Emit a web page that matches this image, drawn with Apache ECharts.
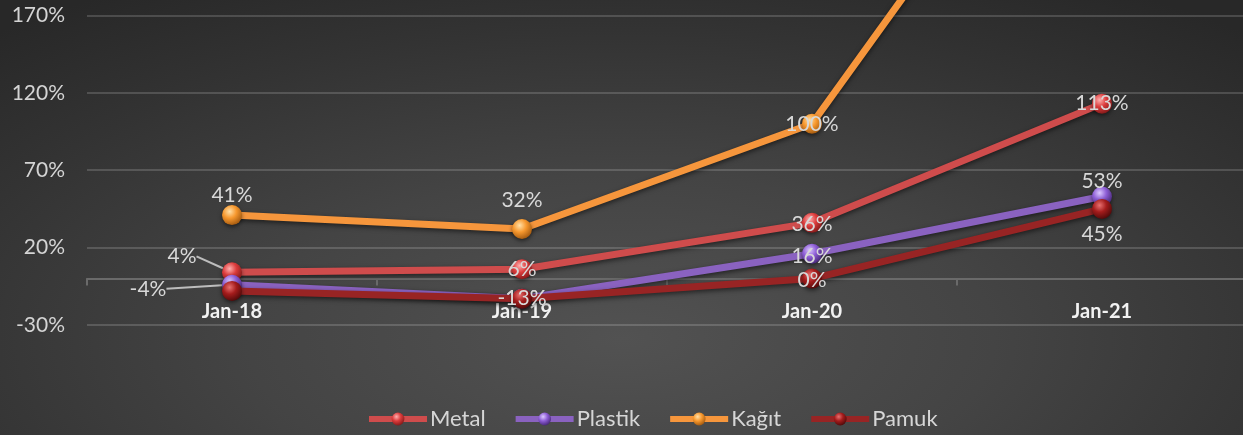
<!DOCTYPE html>
<html>
<head>
<meta charset="utf-8">
<script src="https://cdn.jsdelivr.net/npm/echarts@6/dist/echarts.min.js"></script>
<style>
html,body{margin:0;padding:0;}
#chart{width:1243px;height:435px;background:radial-gradient(ellipse 75% 95% at 50% 78%, #525252 0%, #444444 40%, #333333 75%, #282828 100%);}
</style>
</head>
<body>
<div id="chart"></div>
<script>
const categories = ['Jan-18', 'Jan-19', 'Jan-20', 'Jan-21'];
const seriesNames = ['Metal', 'Plastik', 'Kağıt', 'Pamuk'];
const metal = [4, 6, 36, 113];
const plastik = [-4, -13, 16, 53];
const kagit = [41, 32, 100, 360];
const pamuk = [-8, -13, 0, 45];
const yMin = -30, yMax = 220, yStep = 50;

const FONT = 'Lato, "Open Sans", sans-serif';
const chart = echarts.init(document.getElementById('chart'));

function ball(light, base, dark) {
  return {
    type: 'radial', x: 0.38, y: 0.32, r: 0.75,
    colorStops: [
      { offset: 0, color: light },
      { offset: 0.45, color: base },
      { offset: 1, color: dark }
    ]
  };
}

const styles = [
  { line: '#cf4c4c', marker: ball('#ffb0b0', '#dc3c3c', '#7a1515') },
  { line: '#8a62c0', marker: ball('#dcc8ff', '#8e5ed6', '#40226e') },
  { line: '#f6963c', marker: ball('#ffe0a8', '#f7982e', '#99520c') },
  { line: '#982424', marker: ball('#e87070', '#a41c1c', '#480808') }
];

// per-point label placement: [offsetX, offsetY] relative to point centre, null = hidden
const labelPlace = [
  [[-50, -16], [0, 0], [0, 1], [0, 0]],
  [[-84, 4], [0, 0], [0, 2], [0, -15]],
  [[0, -20], [0, -29], [0, 0], [0, 0]],
  [null, [0, 0], [0, 2], [0, 25]]
];
const leader = [[true, false, false, false], [true, false, false, false], [false, false, false, false], [false, false, false, false]];

const values = [metal, plastik, kagit, pamuk];

const series = values.map((vals, si) => ({
  name: seriesNames[si],
  type: 'line',
  data: vals.map((v, i) => {
    const place = labelPlace[si][i];
    const item = { value: v };
    if (!place) item.label = { show: false };
    if (leader[si][i]) item.labelLine = { show: true };
    return item;
  }),
  symbol: 'circle',
  symbolSize: 20,
  z: 2 + si,
  lineStyle: {
    width: 7,
    color: styles[si].line,
    shadowColor: 'rgba(0,0,0,0.55)',
    shadowBlur: 5,
    shadowOffsetY: 2
  },
  itemStyle: {
    color: styles[si].marker,
    borderWidth: 0,
    shadowColor: 'rgba(0,0,0,0.5)',
    shadowBlur: 4,
    shadowOffsetY: 2
  },
  label: {
    show: true,
    position: 'inside',
    formatter: p => p.value + '%',
    color: '#d8d8d8',
    fontFamily: FONT,
    fontSize: 21
  },
  labelLine: {
    show: false,
    lineStyle: { color: '#bdbdbd', width: 2 }
  },
  labelLayout: function (params) {
    const place = labelPlace[si][params.dataIndex];
    if (!place) return {};
    return { dx: place[0], dy: place[1] };
  },
  emphasis: { disabled: true }
}));

chart.setOption({
  animation: false,
  backgroundColor: 'transparent',
  grid: { left: 87, right: -4, top: -62, bottom: 110, containLabel: false, outerBoundsMode: 'none' },
  legend: {
    data: seriesNames,
    left: 361,
    bottom: 0,
    itemWidth: 58,
    itemHeight: 16,
    itemGap: 27,
    lineStyle: { width: 6 },
    textStyle: { color: '#d6d6d6', fontFamily: FONT, fontSize: 22, padding: [0, 0, 0, -2] }
  },
  xAxis: {
    type: 'category',
    data: categories,
    boundaryGap: true,
    axisLine: { show: true, onZero: true, lineStyle: { color: '#6a6a6a', width: 2 } },
    axisTick: { show: true, length: 7, lineStyle: { color: '#6a6a6a', width: 2 } },
    axisLabel: { color: '#f2f2f2', fontFamily: FONT, fontSize: 20, fontWeight: 'bold', margin: -23 },
    splitLine: { show: false }
  },
  yAxis: {
    type: 'value',
    min: yMin,
    max: yMax,
    interval: yStep,
    axisLine: { show: false },
    axisTick: { show: false },
    axisLabel: { color: '#d4d4d4', fontFamily: FONT, fontSize: 21, margin: 22, formatter: v => v + '%' },
    splitLine: { show: true, lineStyle: { color: 'rgba(255,255,255,0.16)', width: 2 } }
  },
  series: series
});
</script>
</body>
</html>
